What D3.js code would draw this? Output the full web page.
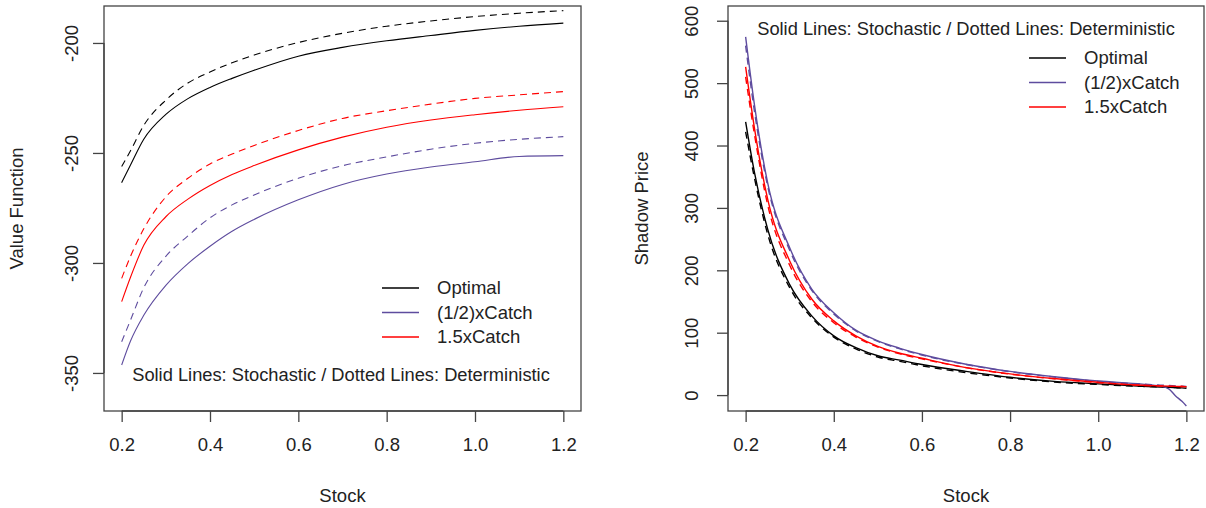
<!DOCTYPE html>
<html>
<head>
<meta charset="utf-8">
<script src="https://cdn.jsdelivr.net/npm/d3@7"></script>
<style>
  body { margin: 0; background: #fff; }
  svg text { font-family: "Liberation Sans", Arial, sans-serif; fill: #222; }
</style>
</head>
<body>
<div id="chart-area"></div>
<script>
// ---- data ----
var stockLeft = [0.2, 0.22, 0.25, 0.3, 0.35, 0.4, 0.45, 0.5, 0.6, 0.7, 0.8, 0.9, 1.0, 1.1, 1.2];
var vfOptSto   = [-263.5, -255.5, -243.8, -232.5, -225.3, -220.2, -216.1, -212.4, -206, -202, -199, -196.6, -194.3, -192.4, -191];
var vfOptDet   = [-256.2, -249, -237.5, -226, -218.2, -213.2, -209, -205.5, -199.8, -195.6, -192.4, -190, -188, -186.5, -185.3];
var vfHalfSto  = [-346.4, -335.5, -323.8, -310.2, -300.3, -292.4, -285.6, -280.2, -271.3, -264.3, -259.6, -256.4, -254, -251.6, -251.2];
var vfHalfDet  = [-335.8, -326, -311.3, -297, -287.7, -279.5, -273.6, -269.1, -261.5, -255.8, -251.8, -248.3, -245.6, -243.8, -242.6];
var vfOneHSto  = [-317.6, -306.5, -292, -279, -271, -264.8, -259.8, -255.7, -248.6, -242.8, -238.3, -235, -232.6, -230.6, -229];
var vfOneHDet  = [-307, -297, -284.5, -270, -261.5, -255, -250.5, -246.6, -239.8, -234.3, -230.8, -227.8, -225.2, -223.6, -222.1];

var stockRight = [0.2, 0.22, 0.25, 0.3, 0.35, 0.4, 0.45, 0.5, 0.55, 0.6, 0.7, 0.8, 0.9, 1.0, 1.1, 1.14, 1.16, 1.175, 1.19, 1.2];
var spOptSto   = [438, 357, 266, 177, 127, 95, 76, 63, 56, 49, 38, 28.5, 22, 18, 14.2, 13, 12.5, 12, 11.5, 11];
var spOptDet   = [422, 348, 258, 172, 124, 93, 74, 61, 54, 47, 36, 27.5, 21, 17, 14, 13, 12.5, 12, 11.5, 11.5];
var spHalfSto  = [574, 465, 340, 236, 170, 132, 104, 87, 75, 65, 49.5, 38, 29.5, 22.5, 17.5, 14.5, 10, -1, -10, -17.5];
var spHalfDet  = [560, 455, 335, 232, 168, 130, 103, 86, 74, 64, 49, 37.5, 29, 22, 17.5, 16, 15.3, 14.8, 14.3, 14];
var spOneHSto  = [526, 428, 314, 215, 154, 119, 95, 78, 67, 59, 44, 34, 26.5, 20.5, 15.8, 14.8, 14.3, 14, 13.7, 13.5];
var spOneHDet  = [510, 418, 305, 208, 150, 116, 93, 77, 66, 58, 44, 33.5, 26, 20, 15.5, 14.6, 14.2, 13.9, 13.7, 13.5];

var seriesNames  = ["Optimal", "(1/2)xCatch", "1.5xCatch"];
var seriesColors = ["#000000", "#5E4C9E", "#FF0000"];
var xTicks = [0.2, 0.4, 0.6, 0.8, 1.0, 1.2];
var yTicksLeft = [-200, -250, -300, -350];
var yTicksRight = [0, 100, 200, 300, 400, 500, 600];
var note = "Solid Lines: Stochastic / Dotted Lines: Deterministic";

var W = 1206, H = 508;
var FS = 18.5;

var svg = d3.select("#chart-area").append("svg")
    .attr("width", W)
    .attr("height", H);

function panel(opt) {
  var x = d3.scaleLinear().domain([0.16, 1.24]).range([opt.left, opt.right]);
  var y = d3.scaleLinear().domain(opt.yDomain).range([opt.bottom, opt.top]);
  var g = svg.append("g");

  // curves
  var line = d3.line()
    .x(function(d) { return x(d[0]); })
    .y(function(d) { return y(d[1]); })
    .curve(d3.curveMonotoneX);
  opt.series.forEach(function(s) {
    var pts = opt.xs.map(function(d, i) { return [d, s.values[i]]; });
    g.append("path")
      .attr("d", line(pts))
      .attr("fill", "none")
      .attr("stroke", s.color)
      .attr("stroke-width", opt.lw)
      .attr("stroke-dasharray", s.dashed ? "7,5" : null);
  });

  // box
  g.append("rect")
    .attr("x", opt.left).attr("y", opt.top)
    .attr("width", opt.right - opt.left).attr("height", opt.bottom - opt.top)
    .attr("fill", "none").attr("stroke", "#444").attr("stroke-width", 1.3);

  // x axis
  var xa = g.append("g").attr("transform", "translate(0," + opt.bottom + ")")
    .call(d3.axisBottom(x).tickValues(xTicks).tickFormat(d3.format(".1f")).tickSize(11).tickPadding(16));
  xa.select(".domain")
    .attr("d", "M" + x(xTicks[0]) + ",0H" + x(xTicks[xTicks.length - 1]));
  xa.selectAll("line, .domain").attr("stroke", "#444").attr("stroke-width", 1.3);
  xa.selectAll("text").attr("font-size", FS).attr("fill", "#222")
    .attr("font-family", "Liberation Sans, Arial, sans-serif");

  // y axis
  var yt = opt.yTicks;
  var ya = g.append("g").attr("transform", "translate(" + opt.left + ",0)")
    .call(d3.axisLeft(y).tickValues(yt).tickSize(11).tickFormat(function(d) { return String(d); }));
  ya.select(".domain")
    .attr("d", "M0," + y(d3.min(yt)) + "V" + y(d3.max(yt)));
  ya.selectAll("line, .domain").attr("stroke", "#444").attr("stroke-width", 1.3);
  ya.selectAll("text")
    .attr("font-size", FS).attr("fill", "#222")
    .attr("font-family", "Liberation Sans, Arial, sans-serif")
    .attr("x", 0).attr("y", 0).attr("dy", "0.35em")
    .attr("text-anchor", "middle")
    .attr("transform", "translate(" + (opt.yLabelX - opt.left) + ",0) rotate(-90)");

  // titles
  svg.append("text")
    .attr("x", (x(0.2) + x(1.2)) / 2).attr("y", 502)
    .attr("text-anchor", "middle").attr("font-size", FS)
    .text("Stock");
  svg.append("text")
    .attr("transform", "translate(" + opt.yTitleX + "," + ((opt.top + opt.bottom) / 2) + ") rotate(-90)")
    .attr("text-anchor", "middle").attr("font-size", FS)
    .text(opt.yTitle);

  // legend
  seriesNames.forEach(function(n, i) {
    var ly = opt.legY + i * 24.5;
    svg.append("line")
      .attr("x1", opt.legX).attr("x2", opt.legX + 37)
      .attr("y1", ly).attr("y2", ly)
      .attr("stroke", seriesColors[i]).attr("stroke-width", 1.3);
    svg.append("text")
      .attr("x", opt.legX + 55).attr("y", ly).attr("dy", "0.35em")
      .attr("font-size", FS)
      .text(n);
  });

  // note
  svg.append("text")
    .attr("x", opt.noteX).attr("y", opt.noteY).attr("dy", "0.35em")
    .attr("text-anchor", "middle").attr("font-size", 18.3)
    .text(note);
}

function mk(a, b, c, d, e, f) {
  return [
    { values: a, color: seriesColors[0], dashed: false },
    { values: b, color: seriesColors[0], dashed: true },
    { values: c, color: seriesColors[1], dashed: false },
    { values: d, color: seriesColors[1], dashed: true },
    { values: e, color: seriesColors[2], dashed: false },
    { values: f, color: seriesColors[2], dashed: true }
  ];
}

panel({
  left: 104, right: 581, top: 6, bottom: 411,
  yDomain: [-367.3, -183.2],
  yTicks: yTicksLeft,
  yLabelX: 72, yTitleX: 23, yTitle: "Value Function",
  xs: stockLeft,
  series: mk(vfOptSto, vfOptDet, vfHalfSto, vfHalfDet, vfOneHSto, vfOneHDet),
  lw: 1.1,
  legX: 382, legY: 288,
  noteX: 341, noteY: 375
});

panel({
  left: 728, right: 1204, top: 6, bottom: 411,
  yDomain: [-25.5, 623.6],
  yTicks: yTicksRight,
  yLabelX: 692, yTitleX: 648, yTitle: "Shadow Price",
  xs: stockRight,
  series: mk(spOptSto, spOptDet, spHalfSto, spHalfDet, spOneHSto, spOneHDet),
  lw: 1.4,
  legX: 1029, legY: 58,
  noteX: 966, noteY: 29
});
</script>
</body>
</html>
